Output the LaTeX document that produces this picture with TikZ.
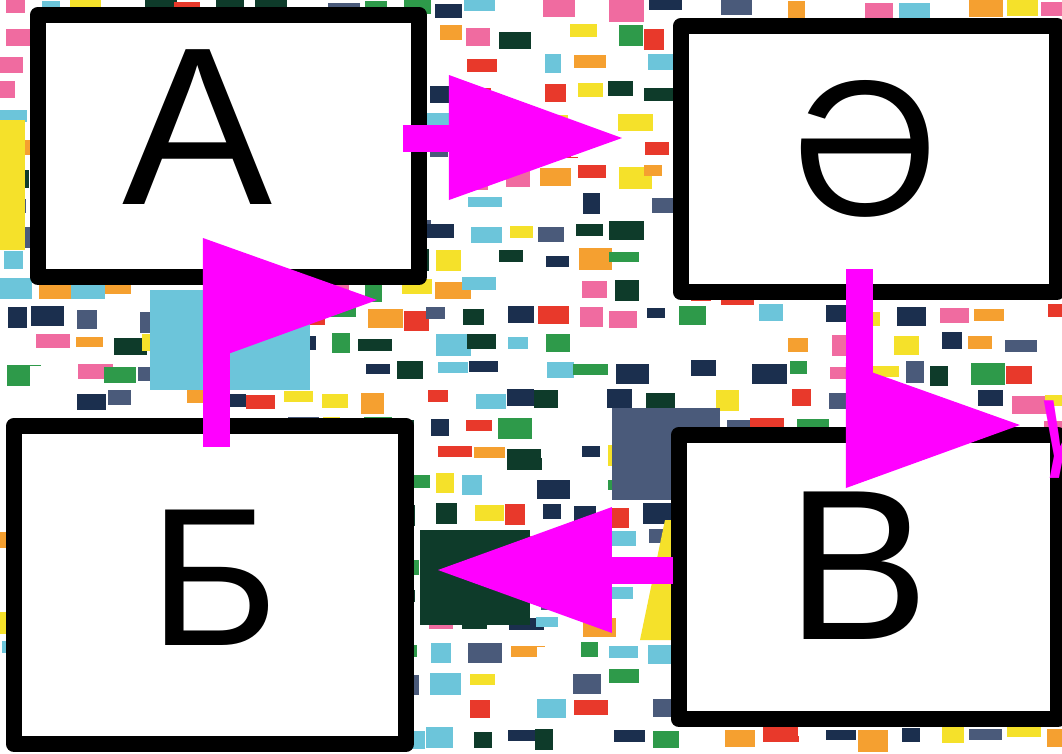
\documentclass[tikz,border=0pt]{standalone}
\usepackage{fontspec}
\setmainfont{Liberation Sans}
\usetikzlibrary{positioning}
\definecolor{arrowmag}{RGB}{255,0,255}
\definecolor{pal0}{HTML}{E8392B}
\definecolor{pal1}{HTML}{F5E12A}
\definecolor{pal2}{HTML}{F5A030}
\definecolor{pal3}{HTML}{6CC5DA}
\definecolor{pal4}{HTML}{0E3B2A}
\definecolor{pal5}{HTML}{1B2F4E}
\definecolor{pal6}{HTML}{F06BA0}
\definecolor{pal7}{HTML}{4A5A7A}
\definecolor{pal8}{HTML}{2E9A4A}
\colorlet{pal9}{white}
\colorlet{pal10}{white}
\colorlet{pal11}{white}

\begin{document}
\begin{tikzpicture}[x=0.01cm,y=-0.01cm,
  box/.style={draw=black,line width=0.16cm,line join=round,fill=white,inner sep=0pt},
  letter/.style={anchor=base,inner sep=0pt},
  shaft/.style={draw=arrowmag,line width=0.27cm},
  head/.style={fill=arrowmag}]
\useasboundingbox (0,0) rectangle (1062,753);
\clip (0,0) rectangle (1062,753);
\fill[white] (0,0) rectangle (1062,753);
% collage behind the boxes
\pgfmathsetseed{7}
\foreach \i in {0,...,29}{
  \foreach \j in {0,...,26}{
    \pgfmathsetmacro{\bx}{\i*36+rnd*14-6}
    \pgfmathsetmacro{\by}{\j*28+rnd*8-4}
    \pgfmathsetmacro{\bw}{16+rnd*20}
    \pgfmathsetmacro{\bh}{10+rnd*12}
    \pgfmathrandominteger{\k}{0}{11}
    \fill[pal\k] (\bx,\by) rectangle ++(\bw,\bh);
  }
}
\fill[pal3] (150,290) rectangle (310,390);
\fill[pal4] (420,530) rectangle (530,625);
\fill[pal7] (612,408) rectangle (720,500);
\fill[pal1] (0,120) rectangle (25,250);
\fill[pal1] (640,640) -- (665,520) -- (672,520) -- (672,640) -- cycle;

% boxes
\node[box,minimum width=3.81cm,minimum height=2.62cm] (A) at (228.5,146) {};
\node[box,minimum width=3.76cm,minimum height=2.66cm] (AE) at (869,159) {};
\node[box,minimum width=3.92cm,minimum height=3.18cm] (B) at (210,585) {};
\node[box,minimum width=3.79cm,minimum height=2.84cm] (V) at (868.5,577) {};

\node[letter,font=\fontsize{64}{64}\selectfont] (tA) at (198,204) {А};
\node[letter,font=\fontsize{55}{55}\selectfont] (tAE) at (865,215) {Ә};
\node[letter,font=\fontsize{56}{56}\selectfont] (tB) at (214,645) {Б};
\node[letter,font=\fontsize{61}{61}\selectfont] (tV) at (858,639) {В};

% arrows
\coordinate (a1) at (403,138);
\coordinate (a2) at (455,138);
\draw[shaft] (a1) -- (a2);
\fill[head] (449,75) -- (449,200) -- (622,138) -- cycle;

\coordinate (b1) at (859.5,269);
\coordinate (b2) at (859.5,430);
\draw[shaft] (b1) -- (b2);
\fill[head] (846,363) -- (846,488) -- (1020,425) -- cycle;

\coordinate (c1) at (216.5,447);
\coordinate (c2) at (216.5,300);
\draw[shaft] (c1) -- (c2);
\fill[head] (203,238) -- (203,363) -- (377,300) -- cycle;

\coordinate (d1) at (673,570);
\coordinate (d2) at (605,570);
\draw[shaft] (d1) -- (d2);
\fill[head] (612,507) -- (612,633) -- (438,570) -- cycle;

\node[text=arrowmag,font=\fontsize{30}{30}\selectfont\itshape,anchor=west,inner sep=0pt] (tail) at (1038,440) {ү};
\end{tikzpicture}
\end{document}
